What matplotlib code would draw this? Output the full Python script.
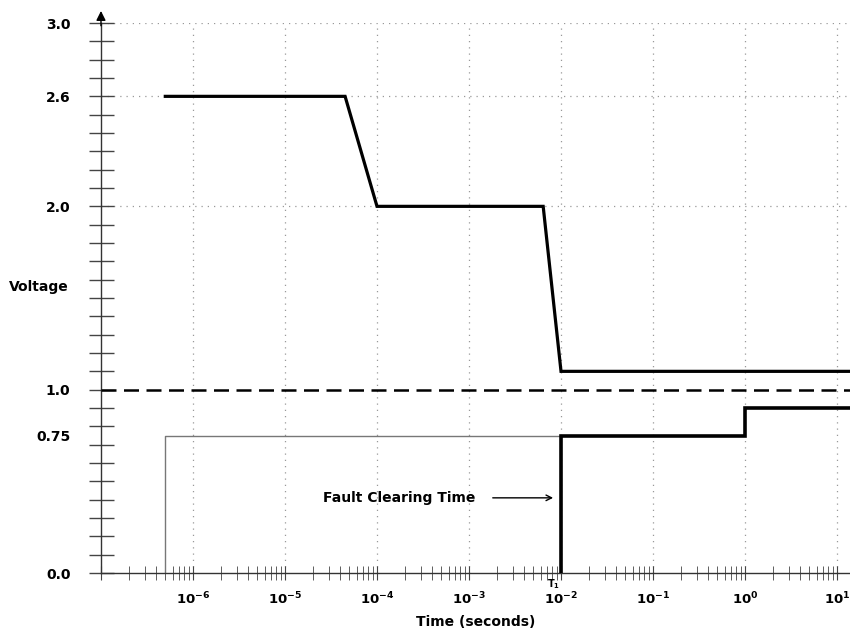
import numpy as np
import matplotlib
matplotlib.use("Agg")
import matplotlib.pyplot as plt
from matplotlib.ticker import FixedLocator, LogLocator, NullFormatter

# curva superior (tolerancia sobretension)
upper_t = [5e-7, 4.5e-5, 1e-4, 6.4e-3, 1e-2, 20]
upper_v = [2.6, 2.6, 2.0, 2.0, 1.1, 1.1]

# curva inferior (tras el despeje de falta)
lower_t = [1e-2, 1e-2, 1.0, 1.0, 20]
lower_v = [0.0, 0.75, 0.75, 0.9, 0.9]

# caja fina gris
box_t = [5e-7, 5e-7, 1e-2, 1e-2]
box_v = [0.0, 0.75, 0.75, 0.0]

nominal_v = 1.0
grid_v = [2.0, 2.6, 3.0]

y_ticks = [0.0, 0.75, 1.0, 2.0, 2.6, 3.0]
y_labels = ["0.0", "0.75", "1.0", "2.0", "2.6", "3.0"]
x_decades = [-6, -5, -4, -3, -2, -1, 0, 1]

plt.rcParams['font.family'] = ['DejaVu Sans']

fig = plt.figure(figsize=(8.5, 6.34), dpi=100)
ax = fig.add_axes([0.1188, 0.0962, 0.8812, 0.8675])

ax.set_xscale('log')
ax.set_xlim(1e-7, 10 ** 1.141)
ax.set_ylim(0, 3.0)

# rejilla punteada
for d in x_decades:
    ax.axvline(10.0 ** d, color='#999999', linestyle=(0, (1, 4)), linewidth=0.9, zorder=1)
for v in grid_v:
    ax.axhline(v, color='#999999', linestyle=(0, (1, 4)), linewidth=0.9, zorder=1)

ax.plot(box_t, box_v, color='#777777', linewidth=1.0, zorder=2)
ax.axhline(nominal_v, color='black', linestyle=(0, (6, 3)), linewidth=1.8, zorder=3)
ax.plot(upper_t, upper_v, color='black', linewidth=2.3, zorder=4, solid_joinstyle='miter')
ax.plot(lower_t, lower_v, color='black', linewidth=2.6, zorder=4, solid_joinstyle='miter')

# ejes
for s in ['top', 'right']:
    ax.spines[s].set_visible(False)
for s in ['left', 'bottom']:
    ax.spines[s].set_color('#333333')
    ax.spines[s].set_linewidth(1.0)

ax.set_yticks(y_ticks)
ax.set_yticklabels(y_labels, fontweight='bold', fontsize=10)
ax.yaxis.set_minor_locator(FixedLocator(np.round(np.arange(0, 3.01, 0.1), 2)))
ax.yaxis.remove_overlapping_locs = False
ax.tick_params(axis='y', which='major', length=0, pad=22)
ax.tick_params(axis='y', which='minor', length=18, direction='inout', color='#444444', width=1.0)

ax.xaxis.set_major_locator(FixedLocator([10.0 ** d for d in [-7] + x_decades]))
ax.set_xticklabels([""] + [r"$\mathbf{10^{%d}}$" % d for d in x_decades], fontsize=9.5)
ax.xaxis.set_minor_locator(LogLocator(base=10, subs=np.arange(2, 10), numticks=20))
ax.xaxis.set_minor_formatter(NullFormatter())
ax.tick_params(axis='x', which='major', length=10, direction='inout', color='#444444', pad=8)
ax.tick_params(axis='x', which='minor', length=10, direction='inout', color='#444444')

ax.set_xlabel("Time (seconds)", fontweight='bold', fontsize=10, labelpad=5)
fig.text(0.011, 0.547, "Voltage", fontweight='bold', fontsize=10, va='center', ha='left')

# flecha del eje y
ax.annotate('', xy=(0, 1.027), xytext=(0, 0.99), xycoords='axes fraction',
            arrowprops=dict(arrowstyle='-|>', color='black', lw=1.0, mutation_scale=14))

ax.text(1.16e-3, 0.41, "Fault Clearing Time", fontweight='bold', fontsize=10,
        ha='right', va='center')
ax.annotate('', xy=(8.8e-3, 0.41), xytext=(1.69e-3, 0.41),
            arrowprops=dict(arrowstyle='->', color='black', lw=1.0))
ax.text(8.3e-3, -0.06, r"$\mathbf{T_1}$", fontsize=7, ha='center', va='center')

fig.savefig("out.png", dpi=100)
